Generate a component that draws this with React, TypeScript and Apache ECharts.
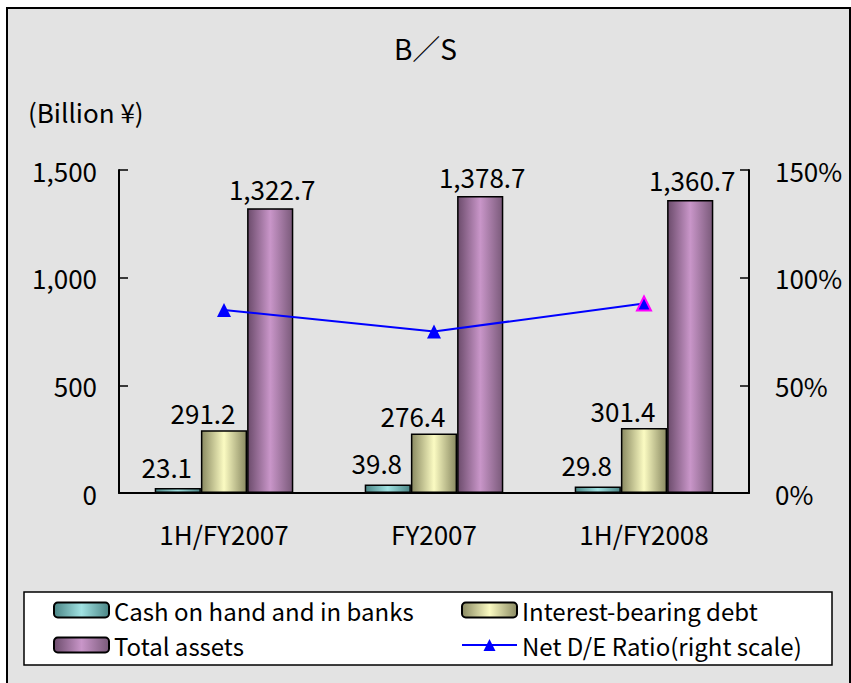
import React, { useEffect, useRef } from "react";
import * as echarts from "echarts";

const categories = ["1H/FY2007", "FY2007", "1H/FY2008"];
const cashValues = [23.1, 39.8, 29.8];
const debtValues = [291.2, 276.4, 301.4];
const assetValues = [1322.7, 1378.7, 1360.7];
const deRatioValues = [85, 75, 88];
const seriesNames = [
  "Cash on hand and in banks",
  "Interest-bearing debt",
  "Total assets",
  "Net D/E Ratio(right scale)",
];

const FONT = "'Noto Sans CJK JP', 'Noto Sans', sans-serif";

const grad = (dark: string, light: string, dark2: string) =>
  new echarts.graphic.LinearGradient(0, 0, 1, 0, [
    { offset: 0, color: dark },
    { offset: 0.5, color: light },
    { offset: 1, color: dark2 },
  ]);

const fmt = (v: number) =>
  v.toLocaleString("en-US", { minimumFractionDigits: 1, maximumFractionDigits: 1 });

export default function App() {
  const ref = useRef<HTMLDivElement>(null);
  useEffect(() => {
    if (!ref.current) return;
    const chart = echarts.init(ref.current, undefined, { renderer: "svg" });
    const labelBase = {
      show: true,
      position: "top" as const,
      fontSize: 26,
      fontFamily: FONT,
      color: "#000",
      formatter: (p: any) => fmt(p.value),
    };
    const legendText = { fontSize: 24, fontFamily: FONT, color: "#000" };
    const mkLegend = (name: string, left: number, top: number) => ({
      data: [name],
      left,
      top,
      itemWidth: 55,
      itemHeight: 15,
      textStyle: legendText,
      itemGap: 4,
      selectedMode: false,
    });
    chart.setOption({
      animation: false,
      backgroundColor: "#ffffff",
      graphic: [
        {
          type: "rect",
          z: -10,
          shape: { x: 7, y: 8, width: 843, height: 700 },
          style: { fill: "#e3e3e3", stroke: "#000", lineWidth: 2 },
        },
        {
          type: "rect",
          z: -5,
          shape: { x: 24, y: 592, width: 808, height: 73 },
          style: { fill: "#ffffff", stroke: "#000", lineWidth: 1.5 },
        },
        {
          type: "text",
          left: 28,
          top: 98,
          style: { text: "(Billion ¥)", fontSize: 26, fontFamily: FONT, fill: "#000" },
        },
      ],
      title: {
        text: "B／S",
        left: "center",
        top: 29,
        textStyle: { fontSize: 28, fontWeight: "normal", fontFamily: FONT, color: "#000" },
      },
      legend: [
        mkLegend(seriesNames[0], 48, 593),
        mkLegend(seriesNames[1], 456, 593),
        mkLegend(seriesNames[2], 48, 628),
        mkLegend(seriesNames[3], 456, 628),
      ],
      grid: { left: 119, right: 102, top: 170, bottom: 190 },
      xAxis: {
        type: "category",
        data: categories,
        axisLine: { lineStyle: { color: "#000", width: 2 } },
        axisTick: { inside: true, length: 8, lineStyle: { color: "#000", width: 1.5 } },
        axisLabel: { fontSize: 26, fontFamily: FONT, color: "#000", margin: 27 },
      },
      yAxis: [
        {
          type: "value",
          min: 0,
          max: 1500,
          interval: 500,
          axisLine: { show: true, lineStyle: { color: "#000", width: 2 } },
          axisTick: { show: true, inside: true, length: 9, lineStyle: { color: "#000", width: 1.5 } },
          splitLine: { show: false },
          axisLabel: {
            fontSize: 26,
            fontFamily: FONT,
            color: "#000",
            margin: 22,
            formatter: (v: number) => v.toLocaleString("en-US"),
          },
        },
        {
          type: "value",
          min: 0,
          max: 150,
          interval: 50,
          position: "right",
          axisLine: { show: true, lineStyle: { color: "#000", width: 2 } },
          axisTick: { show: true, inside: true, length: 9, lineStyle: { color: "#000", width: 1.5 } },
          splitLine: { show: false },
          axisLabel: {
            fontSize: 26,
            fontFamily: FONT,
            color: "#000",
            margin: 26,
            formatter: "{value}%",
          },
        },
      ],
      series: [
        {
          name: seriesNames[0],
          type: "bar",
          data: cashValues,
          barGap: "0%",
          barCategoryGap: "34%",
          itemStyle: {
            color: grad("#4a8585", "#a0e2e2", "#4a8585"),
            borderColor: "#000",
            borderWidth: 1.5,
          },
          label: { ...labelBase, offset: [-11, -4] },
        },
        {
          name: seriesNames[1],
          type: "bar",
          data: debtValues,
          itemStyle: {
            color: grad("#8a8a62", "#fbfbc2", "#8a8a62"),
            borderColor: "#000",
            borderWidth: 1.5,
          },
          label: { ...labelBase, offset: [-21, 0] },
        },
        {
          name: seriesNames[2],
          type: "bar",
          data: assetValues,
          itemStyle: {
            color: grad("#6c4c6c", "#c996c9", "#7a5a7a"),
            borderColor: "#000",
            borderWidth: 1.5,
          },
          label: { ...labelBase, offset: [2, -2] },
        },
        {
          name: seriesNames[3],
          type: "line",
          yAxisIndex: 1,
          data: deRatioValues.map((v, i) =>
            i === deRatioValues.length - 1
              ? { value: v, itemStyle: { borderColor: "#ff00ff", borderWidth: 2 } }
              : v
          ),
          symbol: "triangle",
          symbolSize: 14,
          lineStyle: { color: "#0000ff", width: 2 },
          itemStyle: { color: "#0000ff" },
          z: 5,
        },
      ],
    });
    return () => chart.dispose();
  }, []);
  return (
    <div
      ref={ref}
      style={{ position: "absolute", left: 0, top: 0, width: 851, height: 683 }}
    />
  );
}
